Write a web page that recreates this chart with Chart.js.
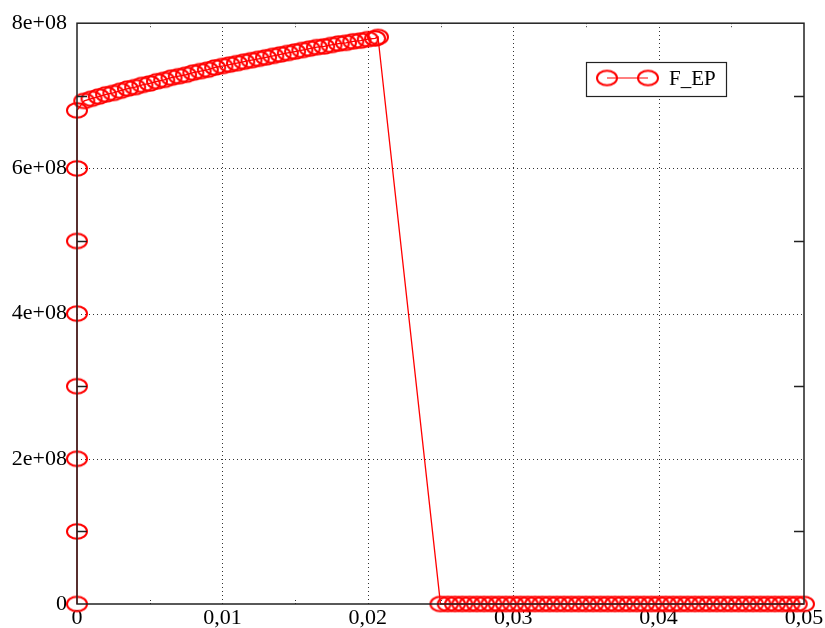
<!DOCTYPE html>
<html lang="en">
<head>
    <meta charset="UTF-8">
    <title>F_EP</title>
    <script src="https://cdn.jsdelivr.net/npm/chart.js"></script>
    <style>
        html, body { margin: 0; padding: 0; background: #fff; }
        #wrap { width: 825px; height: 628px; }
    </style>
</head>
<body>
    <div id="wrap"><canvas id="myChart" width="825" height="628"></canvas></div>
    <script>
        // column of points sitting on x = 0
        const xStart = [0, 0, 0, 0, 0, 0, 0, 0];
        const yStart = [0, 1e8, 2e8, 3e8, 4e8, 5e8, 6e8, 6.8e8];

        // rising part
        const xRise = [0.0005, 0.001, 0.0015, 0.002, 0.0025, 0.003, 0.0035, 0.004, 0.0045, 0.005,
                       0.0055, 0.006, 0.0065, 0.007, 0.0075, 0.008, 0.0085, 0.009, 0.0095, 0.010,
                       0.0105, 0.011, 0.0115, 0.012, 0.0125, 0.013, 0.0135, 0.014, 0.0145, 0.015,
                       0.0155, 0.016, 0.0165, 0.017, 0.0175, 0.018, 0.0185, 0.019, 0.0195, 0.020,
                       0.0205, 0.0207];
        const yRise = [6.93e8, 6.96e8, 6.99e8, 7.02e8, 7.04e8, 7.07e8, 7.10e8, 7.12e8, 7.15e8, 7.17e8,
                       7.20e8, 7.22e8, 7.25e8, 7.27e8, 7.29e8, 7.32e8, 7.34e8, 7.36e8, 7.39e8, 7.41e8,
                       7.43e8, 7.45e8, 7.47e8, 7.49e8, 7.51e8, 7.53e8, 7.55e8, 7.57e8, 7.59e8, 7.61e8,
                       7.63e8, 7.65e8, 7.67e8, 7.68e8, 7.70e8, 7.72e8, 7.73e8, 7.75e8, 7.76e8, 7.78e8,
                       7.79e8, 7.81e8];

        // flat part after the drop
        const xFlat = [0.025, 0.0255, 0.026, 0.0265, 0.027, 0.0275, 0.028, 0.0285, 0.029, 0.0295,
                       0.030, 0.0305, 0.031, 0.0315, 0.032, 0.0325, 0.033, 0.0335, 0.034, 0.0345,
                       0.035, 0.0355, 0.036, 0.0365, 0.037, 0.0375, 0.038, 0.0385, 0.039, 0.0395,
                       0.040, 0.0405, 0.041, 0.0415, 0.042, 0.0425, 0.043, 0.0435, 0.044, 0.0445,
                       0.045, 0.0455, 0.046, 0.0465, 0.047, 0.0475, 0.048, 0.0485, 0.049, 0.0495,
                       0.050];
        const yFlat = [0, 0, 0, 0, 0, 0, 0, 0, 0, 0,
                       0, 0, 0, 0, 0, 0, 0, 0, 0, 0,
                       0, 0, 0, 0, 0, 0, 0, 0, 0, 0,
                       0, 0, 0, 0, 0, 0, 0, 0, 0, 0,
                       0, 0, 0, 0, 0, 0, 0, 0, 0, 0,
                       0];

        const xMajorTicks = [0.01, 0.02, 0.03, 0.04];
        const xMinorTicks = [0.005, 0.015, 0.025, 0.035, 0.045];
        const yMajorTicks = [2e8, 4e8, 6e8];
        const yMinorTicks = [1e8, 3e8, 5e8, 7e8];
        const seriesLabel = 'F_EP';

        const RED = '#ff0000';
        const FONT = '"Liberation Serif", "DejaVu Serif", serif';

        // gnuplot style squashed circle
        function makeEllipse() {
            const c = document.createElement('canvas');
            c.width = 24;
            c.height = 19;
            const g = c.getContext('2d');
            g.strokeStyle = RED;
            g.lineWidth = 2;
            g.beginPath();
            g.ellipse(12, 9.5, 10, 7.3, 0, 0, Math.PI * 2);
            g.stroke();
            return c;
        }
        const ellipse = makeEllipse();

        const points = [];
        [[xStart, yStart], [xRise, yRise], [xFlat, yFlat]].forEach(([xs, ys]) => {
            xs.forEach((x, i) => points.push({ x: x, y: ys[i] }));
        });

        const frame = {
            id: 'frame',
            beforeDatasetsDraw(chart) {
                const { ctx, chartArea: a, scales: { x, y } } = chart;
                ctx.save();
                ctx.strokeStyle = '#333';
                ctx.lineWidth = 1;
                ctx.setLineDash([1, 3]);
                xMajorTicks.forEach(v => {
                    const px = Math.round(x.getPixelForValue(v)) + 0.5;
                    ctx.beginPath();
                    ctx.moveTo(px, a.bottom);
                    ctx.lineTo(px, a.top);
                    ctx.stroke();
                });
                yMajorTicks.forEach(v => {
                    const py = Math.round(y.getPixelForValue(v)) + 0.5;
                    ctx.beginPath();
                    ctx.moveTo(a.left, py);
                    ctx.lineTo(a.right, py);
                    ctx.stroke();
                });
                // small dotted minor ticks on x
                ctx.setLineDash([1, 2]);
                xMinorTicks.forEach(v => {
                    const px = Math.round(x.getPixelForValue(v)) + 0.5;
                    ctx.beginPath();
                    ctx.moveTo(px, a.bottom);
                    ctx.lineTo(px, a.bottom - 6);
                    ctx.moveTo(px, a.top);
                    ctx.lineTo(px, a.top + 6);
                    ctx.stroke();
                });
                ctx.restore();
            },
            afterDatasetsDraw(chart) {
                const { ctx, chartArea: a, scales: { y } } = chart;
                ctx.save();
                ctx.strokeStyle = '#222';
                ctx.lineWidth = 1.5;
                yMinorTicks.forEach(v => {
                    const py = Math.round(y.getPixelForValue(v)) + 0.5;
                    ctx.beginPath();
                    ctx.moveTo(a.left, py);
                    ctx.lineTo(a.left + 10, py);
                    ctx.moveTo(a.right, py);
                    ctx.lineTo(a.right - 10, py);
                    ctx.stroke();
                });
                ctx.strokeRect(a.left, a.top, a.right - a.left, a.bottom - a.top);

                // legend box
                const lx = 586, ly = 62, lw = 140, lh = 34;
                ctx.fillStyle = '#fff';
                ctx.fillRect(lx, ly, lw, lh);
                ctx.lineWidth = 1.2;
                ctx.strokeRect(lx + 0.5, ly + 0.5, lw, lh);
                ctx.strokeStyle = RED;
                ctx.lineWidth = 1.2;
                ctx.beginPath();
                ctx.moveTo(607, ly + 16);
                ctx.lineTo(648, ly + 16);
                ctx.stroke();
                ctx.drawImage(ellipse, 607 - 12, ly + 16 - 9.5);
                ctx.drawImage(ellipse, 648 - 12, ly + 16 - 9.5);
                ctx.fillStyle = '#000';
                ctx.font = '21px ' + FONT;
                ctx.textBaseline = 'middle';
                ctx.fillText(seriesLabel, 669, ly + 17);
                ctx.restore();
            }
        };

        const ctx = document.getElementById('myChart').getContext('2d');
        const chart = new Chart(ctx, {
            type: 'line',
            data: {
                datasets: [{
                    label: seriesLabel,
                    data: points,
                    borderColor: RED,
                    borderWidth: 1.3,
                    pointStyle: ellipse,
                    pointRadius: 10,
                    pointHoverRadius: 10,
                    tension: 0,
                    fill: false,
                    clip: false
                }]
            },
            options: {
                responsive: false,
                animation: false,
                layout: { padding: { top: 20, right: 21, left: 0, bottom: 0 } },
                plugins: { legend: { display: false }, tooltip: { enabled: false } },
                scales: {
                    x: {
                        type: 'linear',
                        min: 0,
                        max: 0.05,
                        grid: { display: false, drawTicks: false },
                        border: { display: false },
                        ticks: {
                            stepSize: 0.01,
                            autoSkip: false,
                            maxRotation: 0,
                            padding: 1,
                            color: '#000',
                            font: { family: FONT, size: 22 },
                            callback: v => v === 0 ? '0' : v.toFixed(2).replace('.', ',')
                        },
                        afterFit: s => { s.height = 24; }
                    },
                    y: {
                        min: 0,
                        max: 8e8,
                        grid: { display: false, drawTicks: false },
                        border: { display: false },
                        ticks: {
                            stepSize: 2e8,
                            autoSkip: false,
                            padding: 10,
                            color: '#000',
                            font: { family: FONT, size: 22 },
                            callback: v => v === 0 ? '0' : (v / 1e8) + 'e+08'
                        },
                        afterFit: s => { s.width = 77; }
                    }
                }
            },
            plugins: [frame]
        });
    </script>
</body>
</html>
